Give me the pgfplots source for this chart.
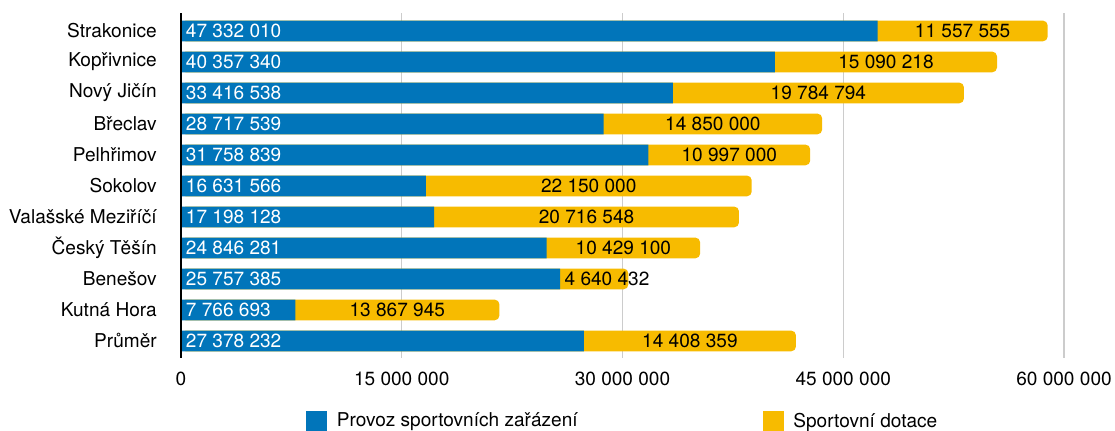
\documentclass[border=0pt]{standalone}
\usepackage{pgfplots}
\pgfplotsset{compat=1.18}
\usepackage{pgfplotstable}
\usepackage{fontspec}
\setmainfont{TeX Gyre Heros}
\definecolor{bluec}{RGB}{1,117,186}
\definecolor{yelc}{RGB}{247,187,0}
\pgfplotstableread[col sep=comma]{
y,a,b,mx,la,lb
10,47332010,11557555,53110787,47 332 010,11 557 555
9,40357340,15090218,47902449,40 357 340,15 090 218
8,33416538,19784794,43308935,33 416 538,19 784 794
7,28717539,14850000,36142539,28 717 539,14 850 000
6,31758839,10997000,37257339,31 758 839,10 997 000
5,16631566,22150000,27706566,16 631 566,22 150 000
4,17198128,20716548,27556402,17 198 128,20 716 548
3,24846281,10429100,30060831,24 846 281,10 429 100
2,25757385,4640432,28950000,25 757 385,4 640 432
1,7766693,13867945,14700666,7 766 693,13 867 945
0,27378232,14408359,34582412,27 378 232,14 408 359
}\data
\begin{document}
\begin{tikzpicture}
\begin{axis}[
  scale only axis,
  width=662.25pt, height=258.75pt,
  xmin=0, xmax=60000000,
  ymin=-0.55, ymax=10.58,
  clip=false,
  axis line style={draw=none},
  xtick={0,15000000,30000000,45000000,60000000},
  xticklabels={0,15 000 000,30 000 000,45 000 000,60 000 000},
  ytick={0,...,10},
  yticklabels={Průměr,Kutná Hora,Benešov,Český Těšín,Valašské Meziříčí,Sokolov,Pelhřimov,Břeclav,Nový Jičín,Kopřivnice,Strakonice},
  tick style={draw=none},
  xmajorgrids,
  grid style={color=black!20, line width=0.8pt},
  scaled x ticks=false,
  ticklabel style={font=\fontsize{14.3}{16}\selectfont},
  xticklabel style={inner sep=0pt, yshift=-10pt},
  yticklabel style={inner sep=0pt, xshift=-18pt},
  legend style={at={(rel axis cs:0.1416,-0.1826)}, anchor=west, draw=none, fill=none,
    inner sep=0pt, column sep=7.5pt, nodes={inner sep=0pt}, font=\fontsize{14.3}{16}\selectfont},
  legend columns=2,
]
\addlegendimage{legend image code/.code={\fill[bluec] (0pt,-7.5pt) rectangle (15pt,7.5pt);}}
\addlegendentry{\makebox[312pt][l]{Provoz sportovních zařázení}}
\addlegendimage{legend image code/.code={\fill[yelc] (0pt,-7.5pt) rectangle (15pt,7.5pt);}}
\addlegendentry{Sportovní dotace}
% yellow full bars (total) with rounded ends
\addplot[xbar, bar width=15.5pt, bar shift=0pt, fill=yelc, draw=none, rounded corners=3.5pt, forget plot]
  table[x expr=\thisrow{a}+\thisrow{b}, y=y] {\data};
% blue bars
\addplot[xbar, bar width=15.5pt, bar shift=0pt, fill=bluec, draw=none, forget plot]
  table[x=a, y=y] {\data};
% blue labels
\addplot[draw=none, mark=none, forget plot, point meta=explicit symbolic,
  nodes near coords, nodes near coords style={anchor=west, text=white, inner sep=0pt, xshift=3.5pt, font=\fontsize{14.3}{16}\selectfont}]
  table[x expr=0, y=y, meta=la] {\data};
% yellow labels
\addplot[draw=none, mark=none, forget plot, point meta=explicit symbolic,
  nodes near coords, nodes near coords style={anchor=center, text=black, inner sep=0pt, font=\fontsize{14.3}{16}\selectfont}]
  table[x=mx, y=y, meta=lb] {\data};
\draw[black, line width=1.5pt] (rel axis cs:0,0) -- (rel axis cs:0,1);
\coordinate (O) at (rel axis cs:0,0);
\end{axis}
\pgfresetboundingbox
\path[use as bounding box] (O) ++(-135.75pt,-54.75pt) rectangle ++(836.25pt,323.25pt);
\end{tikzpicture}
\end{document}
